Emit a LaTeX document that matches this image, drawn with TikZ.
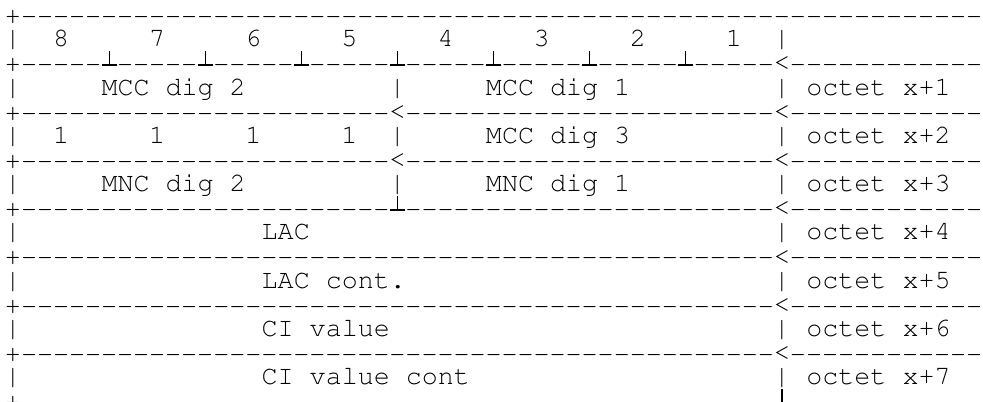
\documentclass[tikz,border=0pt]{standalone}
\usepackage[T1]{fontenc}
\usepackage{courier}

\newcommand{\sepline}[1]{%
    \node[dash glyph] (p#1) at (0,#1) {+};
    \foreach \c in {1,...,60} {\node[dash glyph] (d#1-\c) at (\c,#1) {-};}
}
\newcommand{\backarrow}[2]{%
    \node[mask] (w#2-#1) at (#1,#2) {\phantom{<}};
    \node[cell] (a#2-#1) at (#1,#2) {<};
}
\newcommand{\notch}[2]{%
    \node[mask] (n#2-#1) at (#1,#2) {\phantom{<}};
    \draw[tackbase] (#1-0.47,#2-0.249) -- (#1+0.47,#2-0.249);
    \draw[tack] (#1,#2-0.249) -- (#1,#2-0.828);
}

\begin{document}
\begin{tikzpicture}[
    x=8.01pt, y=-12.07pt,
    cell/.style={
        anchor=base, inner sep=0pt,
        font=\fontfamily{pcr}\fontsize{13.35}{16}\selectfont
    },
    dash glyph/.style={
        cell, yshift=-0.9pt
    },
    field/.style={
        cell, anchor=base west, xshift=-4.005pt
    },
    mask/.style={
        cell, fill=white, yshift=-0.9pt
    },
    tack/.style={line width=0.6pt},
    tackbase/.style={line width=1pt}
]

    \useasboundingbox (-0.8115,0.0597) rectangle (60.549,16.671);
    \clip (-0.8115,0.0597) rectangle (60.549,16.671);

    \foreach \r in {1,3,...,17} {\sepline{\r}}
    \foreach \r in {2,4,...,16} {
        \node[cell] (l\r) at (0,\r) {|};
        \node[cell] (b\r) at (48,\r) {|};
    }
    \foreach \r in {4,6,8} {\node[cell] (m\r) at (24,\r) {|};}

    \foreach \d [count=\i from 0] in {8,...,1}
        \node[cell] (bit\d) at (3+6*\i,2) {\d};
    \foreach \c in {6,12,...,42} {\notch{\c}{3}}
    \backarrow{48}{3}

    \node[field] (mcc2) at (6,4) {MCC dig 2};
    \node[field] (mcc1) at (30,4) {MCC dig 1};
    \foreach \r in {5,7} {\backarrow{24}{\r}\backarrow{48}{\r}}

    \foreach \i in {0,...,3}
        \node[cell] (one\i) at (3+6*\i,6) {1};
    \node[field] (mcc3) at (30,6) {MCC dig 3};

    \node[field] (mnc2) at (6,8) {MNC dig 2};
    \node[field] (mnc1) at (30,8) {MNC dig 1};
    \notch{24}{9}
    \foreach \r in {9,11,13,15} {\backarrow{48}{\r}}

    \node[field] (lac) at (16,10) {LAC};
    \node[field] (lacc) at (16,12) {LAC cont.};
    \node[field] (ci) at (16,14) {CI value};
    \node[field] (cic) at (16,16) {CI value cont};
    \notch{48}{17}

    \foreach \k [evaluate=\k as \r using int(2*\k+2)] in {1,...,7}
        \node[field] (oct\k) at (50,\r) {octet x+\k};

\end{tikzpicture}
\end{document}
